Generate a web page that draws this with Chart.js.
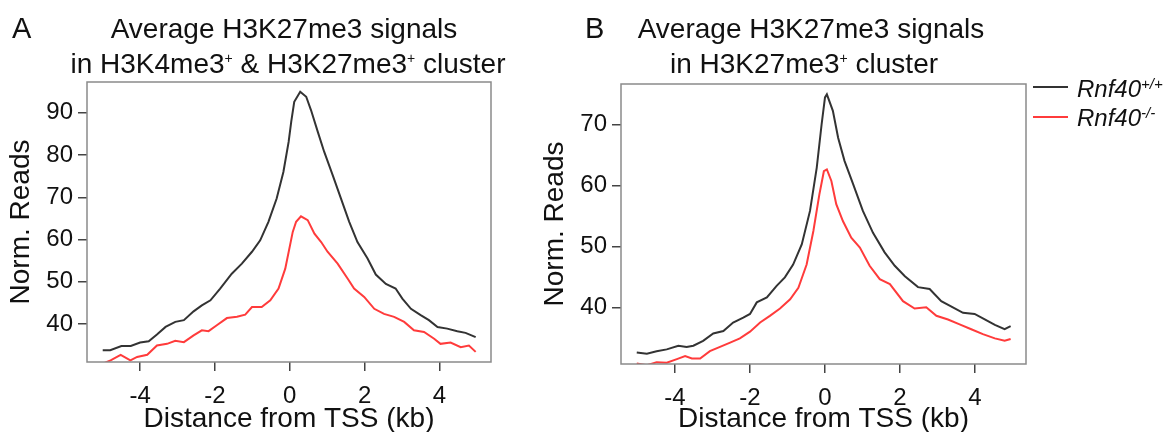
<!DOCTYPE html>
<html>
<head>
<meta charset="utf-8">
<script src="https://cdn.jsdelivr.net/npm/chart.js@4.4.1/dist/chart.umd.min.js"></script>
<style>
  body { margin: 0; background: #fff; }
  #page { position: relative; width: 1170px; height: 432px; overflow: hidden; font-family: "Liberation Sans", Arial, sans-serif; color: #111; }
  canvas { position: absolute; top: 0; }
  .txt { position: absolute; white-space: nowrap; }
  .title { font-size: 28px; line-height: 28px; width: 600px; text-align: center; }
  .title sup { font-size: 14px; vertical-align: 10px; line-height: 0; }
  .letter { font-size: 29px; line-height: 29px; }
  .leg { font-size: 24px; line-height: 24px; font-style: italic; }
  .leg sup { font-size: 15px; vertical-align: 8px; line-height: 0; }
  .legline { position: absolute; width: 35px; height: 0; border-top: 2px solid; }
</style>
</head>
<body>
<div id="page">
  <canvas id="chartA" width="580" height="432" style="left:0"></canvas>
  <canvas id="chartB" width="636" height="432" style="left:534px"></canvas>

  <div class="txt letter" style="left:12px; top:14px">A</div>
  <div class="txt title" style="left:-16px; top:15px">Average H3K27me3 signals</div>
  <div class="txt title" style="left:-12px; top:50px">in H3K4me3<sup>+</sup> &amp; H3K27me3<sup>+</sup> cluster</div>

  <div class="txt letter" style="left:585px; top:14px">B</div>
  <div class="txt title" style="left:511px; top:15px">Average H3K27me3 signals</div>
  <div class="txt title" style="left:504px; top:50px">in H3K27me3<sup>+</sup> cluster</div>

  <div class="legline" style="left:1033px; top:86px; border-color:#333"></div>
  <div class="txt leg" style="left:1077px; top:77px">Rnf40<sup>+/+</sup></div>
  <div class="legline" style="left:1033px; top:116px; border-color:#ff3b3b"></div>
  <div class="txt leg" style="left:1077px; top:106px">Rnf40<sup>-/-</sup></div>
</div>

<script>
// ── panel A: H3K4me3+ & H3K27me3+ cluster ──
const aWildX = [-5.0, -4.8, -4.5, -4.25, -4.0, -3.77, -3.55, -3.32, -3.06, -2.83, -2.57, -2.35, -2.12, -1.86, -1.55, -1.28, -1.01, -0.79, -0.57, -0.35, -0.17, -0.03, 0.04, 0.12, 0.28, 0.44, 0.57, 0.75, 0.92, 1.15, 1.37, 1.59, 1.81, 2.08, 2.30, 2.57, 2.83, 3.01, 3.24, 3.50, 3.72, 3.95, 4.21, 4.48, 4.70, 4.97];
const aWildY = [33.8, 33.8, 34.8, 34.8, 35.6, 35.9, 37.5, 39.3, 40.5, 40.9, 43.0, 44.4, 45.6, 48.4, 51.9, 54.3, 57.1, 59.8, 64.2, 69.7, 76.0, 83.1, 87.9, 92.6, 95.0, 93.8, 90.6, 85.5, 80.8, 75.2, 69.7, 64.2, 59.4, 55.5, 51.7, 49.5, 48.4, 46.0, 43.6, 42.1, 40.9, 39.3, 38.9, 38.3, 37.9, 36.9];
const aKoX = [-5.0, -4.79, -4.52, -4.26, -4.08, -3.81, -3.55, -3.28, -3.06, -2.83, -2.57, -2.35, -2.17, -1.95, -1.68, -1.41, -1.19, -1.01, -0.75, -0.52, -0.30, -0.12, 0.08, 0.17, 0.30, 0.48, 0.66, 0.84, 1.01, 1.28, 1.55, 1.72, 1.99, 2.26, 2.52, 2.79, 3.06, 3.32, 3.59, 3.86, 4.03, 4.30, 4.57, 4.79, 4.97];
const aKoY = [30.6, 31.4, 32.7, 31.4, 32.2, 32.7, 34.9, 35.3, 36.0, 35.7, 37.3, 38.5, 38.3, 39.7, 41.4, 41.7, 42.2, 44.0, 44.0, 45.6, 48.4, 53.1, 61.8, 64.2, 65.5, 64.6, 61.4, 59.4, 57.1, 54.3, 50.7, 48.4, 46.4, 43.6, 42.4, 41.7, 40.5, 38.5, 38.1, 36.5, 35.3, 35.6, 34.5, 34.9, 33.4];
const aYTicks = [40, 50, 60, 70, 80, 90];

// ── panel B: H3K27me3+ cluster ──
const bWildX = [-5.02, -4.75, -4.49, -4.22, -3.91, -3.69, -3.51, -3.25, -2.98, -2.71, -2.45, -2.18, -2.0, -1.82, -1.55, -1.29, -1.07, -0.85, -0.62, -0.40, -0.22, -0.09, 0.0, 0.05, 0.21, 0.35, 0.52, 0.75, 1.01, 1.28, 1.59, 1.86, 2.13, 2.48, 2.79, 3.10, 3.41, 3.68, 3.99, 4.26, 4.53, 4.79, 4.95];
const bWildY = [32.6, 32.4, 32.8, 33.1, 33.7, 33.5, 33.7, 34.5, 35.7, 36.1, 37.5, 38.3, 38.9, 40.8, 41.6, 43.5, 44.9, 47.0, 50.3, 55.8, 62.9, 70.0, 74.4, 74.9, 72.2, 67.8, 64.0, 60.2, 55.8, 52.2, 49.0, 46.8, 45.1, 43.3, 43.0, 41.0, 40.0, 39.1, 38.9, 38.0, 37.1, 36.4, 36.9];
const bKoX = [-5.02, -4.75, -4.49, -4.22, -3.95, -3.73, -3.55, -3.33, -3.07, -2.8, -2.53, -2.27, -2.0, -1.73, -1.47, -1.2, -0.93, -0.71, -0.49, -0.31, -0.15, -0.03, 0.05, 0.17, 0.30, 0.48, 0.70, 0.93, 1.19, 1.46, 1.73, 2.08, 2.39, 2.70, 2.97, 3.28, 3.59, 3.90, 4.21, 4.53, 4.79, 4.95];
const bKoY = [30.8, 30.5, 31.0, 30.9, 31.5, 32.0, 31.6, 31.6, 32.8, 33.5, 34.2, 34.9, 36.0, 37.5, 38.6, 39.8, 41.3, 43.2, 47.0, 52.5, 58.5, 62.3, 62.6, 60.7, 56.9, 54.1, 51.4, 49.8, 46.8, 44.6, 43.8, 41.0, 39.8, 40.0, 38.6, 38.0, 37.2, 36.4, 35.6, 34.9, 34.5, 34.8];
const bYTicks = [40, 50, 60, 70];

const xTicks = [-4, -2, 0, 2, 4];
const font = '"Liberation Sans", Arial, sans-serif';

const toPoints = (xs, ys) => xs.map((x, i) => ({ x: x, y: ys[i] }));

// box round the plot area
const boxPlugin = {
  id: 'box',
  afterDatasetsDraw(chart) {
    const { ctx, chartArea: a } = chart;
    ctx.save();
    ctx.strokeStyle = '#8a8a8a';
    ctx.lineWidth = 1.5;
    ctx.strokeRect(a.left, a.top, a.right - a.left, a.bottom - a.top);
    ctx.restore();
  }
};

function makePanel(id, p) {
  return new Chart(document.getElementById(id), {
    type: 'line',
    data: {
      datasets: [
        { data: toPoints(p.wildX, p.wildY), borderColor: '#333333', borderWidth: 2, pointRadius: 0, tension: 0, clip: 0 },
        { data: toPoints(p.koX, p.koY), borderColor: '#ff3b3b', borderWidth: 2, pointRadius: 0, tension: 0, clip: 0 },
      ]
    },
    options: {
      responsive: false,
      animation: false,
      layout: { padding: { top: p.top, left: 0, right: p.right, bottom: 0 } },
      plugins: { legend: { display: false }, tooltip: { enabled: false } },
      scales: {
        x: {
          type: 'linear',
          min: p.xMin, max: p.xMax,
          afterBuildTicks: (s) => { s.ticks = xTicks.map(v => ({ value: v })); },
          afterFit: (s) => { s.height = p.xHeight; },
          grid: { drawOnChartArea: false, tickLength: 9, color: '#444', lineWidth: 1.5 },
          border: { display: false },
          ticks: { color: '#111', font: { family: font, size: 24 }, padding: 11, maxRotation: 0 },
          title: { display: true, text: 'Distance from TSS (kb)', color: '#111', font: { family: font, size: 28, lineHeight: 0.9 }, padding: 0 }
        },
        y: {
          min: p.yMin, max: p.yMax,
          afterBuildTicks: (s) => { s.ticks = p.yTicks.map(v => ({ value: v })); },
          afterFit: (s) => { s.width = 87; },
          grid: { drawOnChartArea: false, tickLength: 9, color: '#444', lineWidth: 1.5 },
          border: { display: false },
          ticks: { color: '#111', font: { family: font, size: 24 }, padding: 5 },
          title: { display: true, text: 'Norm. Reads', color: '#111', font: { family: font, size: 28, lineHeight: 1.2 }, padding: { top: 4, bottom: 0 } }
        }
      }
    },
    plugins: [boxPlugin]
  });
}

makePanel('chartA', {
  wildX: aWildX, wildY: aWildY, koX: aKoX, koY: aKoY, yTicks: aYTicks,
  xMin: -5.42, xMax: 5.38, yMin: 31, yMax: 97.3, top: 82, right: 89, xHeight: 70
});
makePanel('chartB', {
  wildX: bWildX, wildY: bWildY, koX: bKoX, koY: bKoY, yTicks: bYTicks,
  xMin: -5.44, xMax: 5.36, yMin: 30.7, yMax: 76.6, top: 84, right: 144, xHeight: 68
});
</script>
</body>
</html>
